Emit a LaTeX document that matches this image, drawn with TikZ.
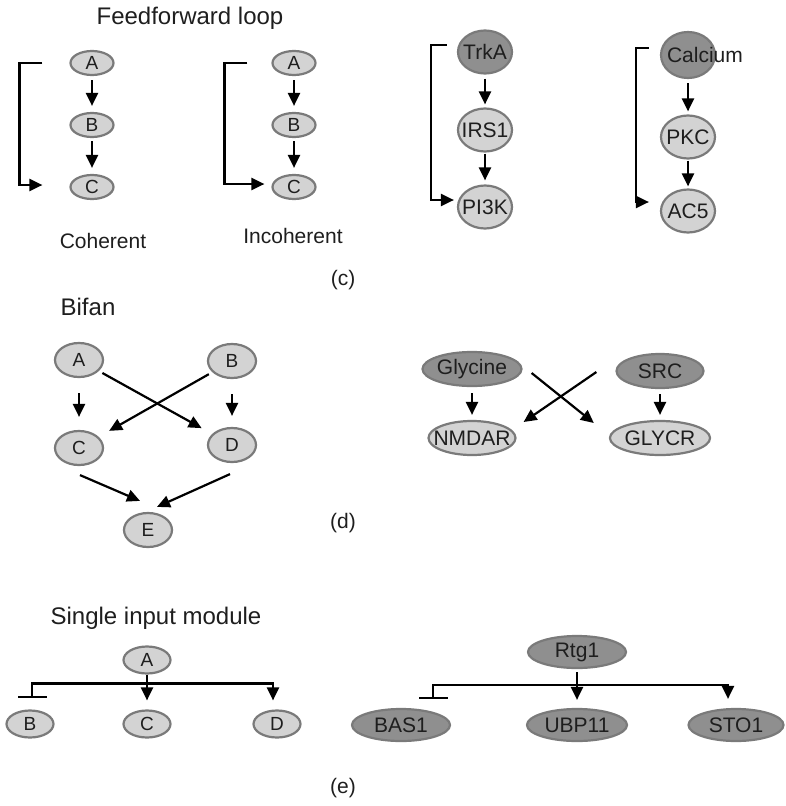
\documentclass[tikz,border=0pt]{standalone}
\usepackage{fontspec}
\setmainfont{Liberation Sans}
\usetikzlibrary{shapes.geometric, arrows.meta}

\definecolor{molfill}{HTML}{D3D3D3}
\definecolor{moldark}{HTML}{8F8F8F}
\definecolor{moledge}{HTML}{7A7A7A}
\definecolor{ink}{HTML}{1E1E1E}

% text that may stick out of its ellipse
\newcommand{\moltext}[1]{\makebox[0pt]{#1}}

\begin{document}
\begin{tikzpicture}[x=1pt, y=-1pt,
    mol/.style={ellipse, draw=moledge, line width=2.2pt, fill=molfill, inner sep=0pt, text=ink},
    letter/.style={mol, minimum width=43pt, minimum height=24pt, font=\fontsize{19}{19}\selectfont},
    bigmol/.style={mol, minimum width=54pt, minimum height=43pt, font=\fontsize{21}{21}\selectfont},
    widemol/.style={mol, minimum width=87pt, minimum height=34pt, font=\fontsize{21}{21}\selectfont},
    darkmol/.style={fill=moldark},
    arr/.style={line width=2.2pt, -{Triangle[length=13pt,width=12pt]}},
    inh/.style={line width=2.2pt, {Bar[width=29pt]}-{Triangle[length=13pt,width=12pt]}},
    title/.style={font=\fontsize{24}{24}\selectfont, text=ink},
    caption/.style={font=\fontsize{21}{21}\selectfont, text=ink}]

    \useasboundingbox (0,0) rectangle (785,806);

    % --- Feedforward loop ---
    \node[title] (fftitle) at (190,18) {Feedforward loop};

    % Coherent
    \node[letter] (cohA) at (92,63) {A};
    \node[letter] (cohB) at (92,125) {B};
    \node[letter] (cohC) at (92,187) {C};
    \draw[arr, shorten <=4pt, shorten >=6pt] (cohA) -- (cohB);
    \draw[arr, shorten <=3pt, shorten >=6pt] (cohB) -- (cohC);
    \draw[arr] ([xshift=-27pt]cohA.west) -- ++(-23,0) |- ([xshift=-27pt,yshift=2pt]cohC.west);
    \node[caption] (cohlbl) at (103,241) {Coherent};

    % Incoherent
    \node[letter] (incA) at (294,63) {A};
    \node[letter] (incB) at (294,125) {B};
    \node[letter] (incC) at (294,187) {C};
    \draw[arr, shorten <=4pt, shorten >=6pt] (incA) -- (incB);
    \draw[arr, shorten <=3pt, shorten >=6pt] (incB) -- (incC);
    \draw[arr] ([xshift=-24pt]incA.west) -- ++(-23,0) |- ([xshift=-7pt,yshift=3pt]incC.west);
    \node[caption] (inclbl) at (293,236) {Incoherent};

    % TrkA example
    \node[bigmol, darkmol] (trka) at (485,52) {\moltext{TrkA}};
    \node[bigmol] (irs) at (485,130) {\moltext{IRS1}};
    \node[bigmol] (pik) at (485,207) {\moltext{PI3K}};
    \draw[arr, shorten <=4pt, shorten >=3pt] (trka) -- (irs);
    \draw[arr, shorten <=1pt, shorten >=4pt] (irs) -- (pik);
    \draw[arr] ([xshift=-10pt,yshift=7pt]trka.west) -- ++(-16,0) |- ([xshift=-3pt,yshift=7pt]pik.west);

    % Calcium example
    \node[bigmol, darkmol, minimum height=46pt] (calc) at (688,55) {\makebox[0pt][l]{\hspace{-21pt}Calcium}};
    \node[bigmol] (pkc) at (688,137) {\moltext{PKC}};
    \node[bigmol] (acf) at (688,211) {\moltext{AC5}};
    \draw[arr, shorten <=4pt, shorten >=3pt] (calc) -- (pkc);
    \draw[arr, shorten <=1pt, shorten >=2pt] (pkc) -- (acf);
    \draw[arr] ([xshift=-11pt,yshift=7pt]calc.west) -- ++(-13,0) |- ([xshift=-11pt,yshift=9pt]acf.west);

    \node[caption] (clbl) at (343,280) {(c)};

    % --- Bifan ---
    \node[title] (bftitle) at (88,307) {Bifan};
    \node[letter, minimum width=48pt, minimum height=34pt] (bfA) at (79,360) {A};
    \node[letter, minimum width=48pt, minimum height=34pt] (bfB) at (232,361) {B};
    \node[letter, minimum width=48pt, minimum height=34pt] (bfC) at (79,448) {C};
    \node[letter, minimum width=48pt, minimum height=34pt] (bfD) at (232,445) {D};
    \node[letter, minimum width=48pt, minimum height=34pt] (bfE) at (148,530) {E};
    \draw[arr, shorten <=15pt, shorten >=13pt] (bfA) -- (bfC);
    \draw[arr, shorten <=15pt, shorten >=11pt] (bfB) -- (bfD);
    \draw[arr, shorten <=4pt, shorten >=12pt] (bfA) -- (bfD);
    \draw[arr, shorten <=4pt, shorten >=12pt] (bfB) -- (bfC);
    \draw[arr] ([xshift=1pt,yshift=-9pt]bfC.south) -- ([xshift=-8pt,yshift=11pt]bfE.north);
    \draw[arr] ([xshift=-2pt,yshift=-11pt]bfD.south) -- ([xshift=9pt,yshift=5pt]bfE.north);

    % Glycine example
    \node[widemol, darkmol] (gly) at (472,369) {Glycine};
    \node[widemol, darkmol] (src) at (660,371) {SRC};
    \node[widemol] (nmdar) at (472,438) {\moltext{NMDAR}};
    \node[widemol] (glycr) at (660,438) {GLYCR};
    \draw[arr, shorten <=6pt, shorten >=5pt] (gly) -- (nmdar);
    \draw[arr, shorten <=5pt, shorten >=5pt] (src) -- (glycr);
    \draw[arr] ([xshift=9pt,yshift=-4pt]gly.east) -- ([xshift=-15pt,yshift=15pt]glycr.west);
    \draw[arr] ([xshift=-19pt,yshift=-1pt]src.west) -- ([xshift=7pt,yshift=16pt]nmdar.east);

    \node[caption] (dlbl) at (343,523) {(d)};

    % --- Single input module ---
    \node[title] (simtitle) at (156,618) {Single input module};
    \node[letter, minimum width=47pt, minimum height=27pt] (simA) at (147,660) {A};
    \node[letter, minimum width=47pt, minimum height=27pt] (simB) at (30,724) {B};
    \node[letter, minimum width=47pt, minimum height=27pt] (simC) at (147,724) {C};
    \node[letter, minimum width=47pt, minimum height=27pt] (simD) at (277,724) {D};
    \draw[arr, shorten >=9pt] (simA) -- (simC);
    \draw[inh] ([xshift=2pt,yshift=11pt]simB.north) -- ++(0,-15) -| ([xshift=-4pt,yshift=9pt]simD.north);

    % Rtg1 example
    \node[widemol, darkmol, minimum width=98pt, minimum height=32pt] (rtg) at (577,652) {Rtg1};
    \node[widemol, darkmol, minimum width=98pt, minimum height=32pt] (bas) at (401,725) {BAS1};
    \node[widemol, darkmol, minimum width=100pt, minimum height=32pt] (ubp) at (577,725) {UBP11};
    \node[widemol, darkmol, minimum width=95pt, minimum height=32pt] (sto) at (736,725) {STO1};
    \draw[arr, shorten <=3pt, shorten >=8pt] (rtg) -- (ubp);
    \draw[inh] ([xshift=32pt,yshift=9pt]bas.north) -- ++(0,-14) -| ([xshift=-8pt,yshift=9pt]sto.north);

    \node[caption] (elbl) at (343,788) {(e)};

\end{tikzpicture}
\end{document}
